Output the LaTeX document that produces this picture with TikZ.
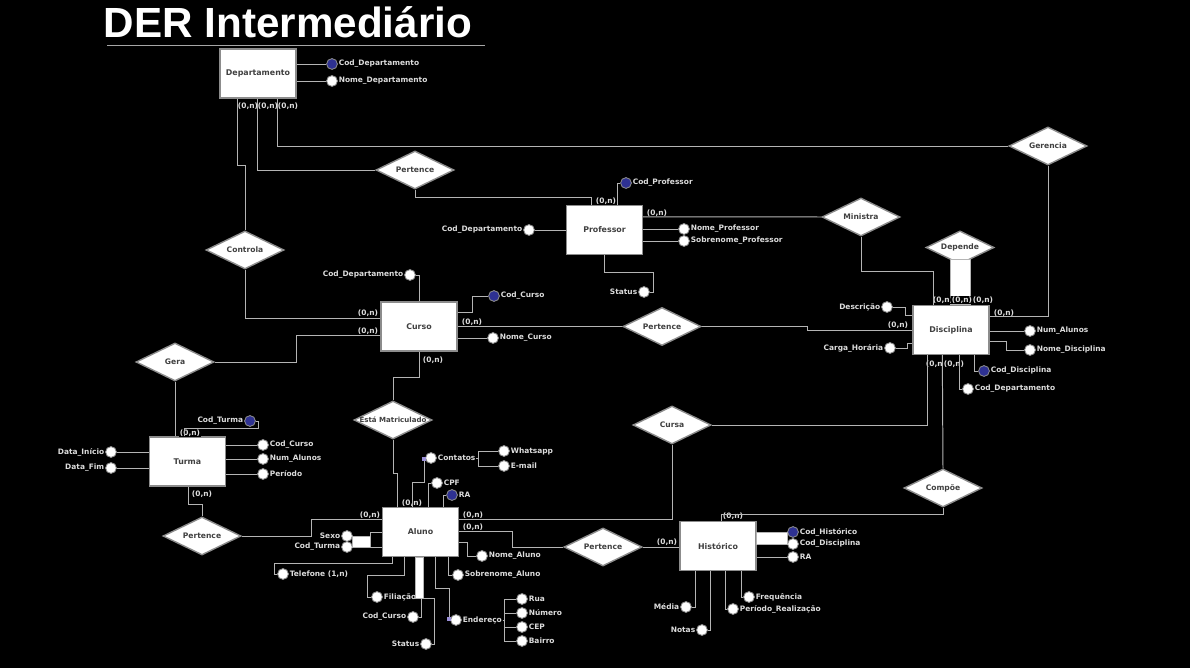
\documentclass[tikz,border=0pt]{standalone}
\usepackage{fontspec}
\setmainfont{DejaVu Sans}
\newfontfamily\titlefont{Liberation Sans}
\usetikzlibrary{shapes.geometric,calc}

\definecolor{linha}{HTML}{B4B4B4}
\definecolor{borda}{HTML}{8C8C8C}
\definecolor{azul}{HTML}{2E3192}
\definecolor{texto}{HTML}{404040}
\definecolor{claro}{HTML}{DCDCDC}
\definecolor{lilas}{HTML}{9A8FD8}

\newcommand{\rtxt}[1]{\makebox[0pt]{#1}}

\begin{document}
\begin{tikzpicture}[x=0.025cm, y=-0.025cm]
        % Estilos
        \tikzstyle{entidade} = [draw=borda, line width=1pt, fill=white, rectangle, minimum width=1.9cm, minimum height=1.225cm, text=texto, font=\fontsize{5.6}{6}\selectfont\bfseries]
        \tikzstyle{relac} = [draw=borda, line width=1pt, fill=white, diamond, minimum width=1.95cm, minimum height=0.95cm, inner sep=0pt, text=texto, font=\fontsize{5.4}{6}\selectfont\bfseries]
        \tikzstyle{atrib} = [draw=borda, line width=0.6pt, fill=white, circle, minimum size=0.27cm, inner sep=0pt, label distance=0.5pt]
        \tikzstyle{chave} = [atrib, fill=azul]
        \tikzstyle{multi} = [rectangle, fill=lilas, minimum size=0.08cm, inner sep=0pt]
        \tikzstyle{rotulo} = [text=claro, font=\fontsize{5.3}{6}\selectfont\bfseries, inner sep=0.5pt]
        \tikzstyle{card} = [rotulo, fill=black, inner sep=0.4pt]
        \tikzstyle{lig} = [draw=linha, line width=0.7pt]

        % Fundo
        \fill[black] (0,0) rectangle (1190,668);
        \useasboundingbox (0,0) rectangle (1190,668);

        % Titulo
        \node[text=white, font=\titlefont\fontsize{30}{32}\selectfont\bfseries] (titulo) at (288,22) {DER Intermediário};
        \draw[gray!70, line width=0.6pt] (107,45) -- (485,45);

        % Entidades
        \node[entidade] (dep) at (258,73.5) {Departamento};
        \node[entidade] (prof) at (604.5,230) {Professor};
        \node[entidade] (curso) at (419,326.5) {Curso};
        \node[entidade] (disc) at (951,330) {Disciplina};
        \node[entidade] (turma) at (187.5,461.5) {Turma};
        \node[entidade] (aluno) at (420.5,532) {Aluno};
        \node[entidade] (hist) at (718,546) {Histórico};

        % Relacionamentos
        \node[relac] (pertDP) at (415,170) {\rtxt{Pertence}};
        \node[relac] (gerencia) at (1048,146) {\rtxt{Gerencia}};
        \node[relac] (ministra) at (861,217) {\rtxt{Ministra}};
        \node[relac, minimum width=1.7cm, minimum height=0.83cm] (depende) at (960,247.5) {\rtxt{Depende}};
        \node[relac] (controla) at (245,250) {\rtxt{Controla}};
        \node[relac] (pertCD) at (662,326.5) {\rtxt{Pertence}};
        \node[relac] (gera) at (175,362) {\rtxt{Gera}};
        \node[relac, font=\fontsize{5}{6}\selectfont\bfseries] (matric) at (393,420) {\rtxt{Está Matriculado}};
        \node[relac] (cursa) at (672,425) {\rtxt{Cursa}};
        \node[relac] (compoe) at (943,488) {\rtxt{Compõe}};
        \node[relac] (pertTA) at (202,536) {\rtxt{Pertence}};
        \node[relac] (pertAH) at (603,547) {\rtxt{Pertence}};

        % Autorrelacionamento (Depende)
        \draw[lig, fill=white] (disc.north west) ++(38,0) rectangle ++(20,-45);

        % Atributos - Departamento
        \node[chave, label={[rotulo]right:Cod\_Departamento}] (kDep) at (332,64) {};
        \node[atrib, label={[rotulo]right:Nome\_Departamento}] (aDepNome) at (332,81) {};

        % Atributos - Professor
        \node[chave, label={[rotulo]right:Cod\_Professor}] (kProf) at (626,183) {};
        \node[atrib, label={[rotulo]left:Cod\_Departamento}] (aProfDep) at (529,230) {};
        \node[atrib, label={[rotulo]right:Nome\_Professor}] (aProfNome) at (684,229) {};
        \node[atrib, label={[rotulo]right:Sobrenome\_Professor}] (aProfSob) at (684,241) {};
        \node[atrib, label={[rotulo]left:Status}] (aProfSta) at (644,292) {};

        % Atributos - Curso
        \node[atrib, label={[rotulo]left:Cod\_Departamento}] (aCurDep) at (410,275) {};
        \node[chave, label={[rotulo]right:Cod\_Curso}] (kCur) at (494,296) {};
        \node[atrib, label={[rotulo]right:Nome\_Curso}] (aCurNome) at (493,338) {};

        % Atributos - Disciplina
        \node[atrib, label={[rotulo]left:Descrição}] (aDisDesc) at (887,307) {};
        \node[atrib, label={[rotulo]left:Carga\_Horária}] (aDisCarga) at (890,348) {};
        \node[atrib, label={[rotulo]right:Num\_Alunos}] (aDisNum) at (1030,331) {};
        \node[atrib, label={[rotulo]right:Nome\_Disciplina}] (aDisNome) at (1030,350) {};
        \node[chave, label={[rotulo]right:Cod\_Disciplina}] (kDis) at (984,371) {};
        \node[atrib, label={[rotulo]right:Cod\_Departamento}] (aDisDep) at (968,389) {};

        % Atributos - Turma
        \node[chave, label={[rotulo]left:Cod\_Turma}] (kTur) at (250,421) {};
        \node[atrib, label={[rotulo]left:Data\_Início}] (aTurIni) at (111,452) {};
        \node[atrib, label={[rotulo]left:Data\_Fim}] (aTurFim) at (111,468) {};
        \node[atrib, label={[rotulo]right:Cod\_Curso}] (aTurCur) at (263,445) {};
        \node[atrib, label={[rotulo]right:Num\_Alunos}] (aTurNum) at (263,459) {};
        \node[atrib, label={[rotulo]right:Período}] (aTurPer) at (263,474) {};

        % Atributos - Aluno
        \node[atrib, label={[rotulo, name=tCont]right:Contatos}] (aAluCont) at (431,458) {};
        \node[multi] (mCont) at (424,459) {};
        \node[atrib, label={[rotulo]right:Whatsapp}] (aAluWhats) at (504,451) {};
        \node[atrib, label={[rotulo]right:E-mail}] (aAluMail) at (504,466) {};
        \node[atrib, label={[rotulo]right:CPF}] (aAluCPF) at (437,483) {};
        \node[chave, label={[rotulo]right:RA}] (kAlu) at (452,495) {};
        \node[atrib, label={[rotulo]left:Sexo}] (aAluSexo) at (347,536) {};
        \node[atrib, label={[rotulo]left:Cod\_Turma}] (aAluTur) at (347,547) {};
        \node[atrib, label={[rotulo]right:Nome\_Aluno}] (aAluNome) at (482,556) {};
        \node[atrib, label={[rotulo]right:Telefone (1,n)}] (aAluTel) at (283,574) {};
        \node[atrib, label={[rotulo]right:Sobrenome\_Aluno}] (aAluSob) at (458,575) {};
        \node[atrib, label={[rotulo]right:Filiação}] (aAluFil) at (377,597) {};
        \node[atrib, label={[rotulo]left:Cod\_Curso}] (aAluCur) at (413,617) {};
        \node[atrib, label={[rotulo, name=tEnd]right:Endereço}] (aAluEnd) at (456,620) {};
        \node[multi] (mEnd) at (449,619) {};
        \node[atrib, label={[rotulo]left:Status}] (aAluSta) at (426,644) {};
        \node[atrib, label={[rotulo]right:Rua}] (aEndRua) at (522,599) {};
        \node[atrib, label={[rotulo]right:Número}] (aEndNum) at (522,613) {};
        \node[atrib, label={[rotulo]right:CEP}] (aEndCEP) at (522,627) {};
        \node[atrib, label={[rotulo]right:Bairro}] (aEndBairro) at (522,641) {};

        % Atributos - Historico
        \node[chave, label={[rotulo]right:Cod\_Histórico}] (kHis) at (793,532) {};
        \node[atrib, label={[rotulo]right:Cod\_Disciplina}] (aHisDis) at (793,544) {};
        \node[atrib, label={[rotulo]right:RA}] (aHisRA) at (793,557) {};
        \node[atrib, label={[rotulo]right:Frequência}] (aHisFreq) at (749,597) {};
        \node[atrib, label={[rotulo]right:Período\_Realização}] (aHisPer) at (733,609) {};
        \node[atrib, label={[rotulo]left:Média}] (aHisMed) at (686,607) {};
        \node[atrib, label={[rotulo]left:Notas}] (aHisNotas) at (702,630) {};

        % Cardinalidades
        \node[card] (cDep1) at (248,106) {(0,n)};
        \node[card] (cDep2) at (268,106) {(0,n)};
        \node[card] (cDep3) at (288,106) {(0,n)};
        \node[card] (cProf1) at (606,201) {(0,n)};
        \node[card] (cProf2) at (657,213) {(0,n)};
        \node[card] (cDis1) at (943,300) {(0,n)};
        \node[card] (cDis2) at (962,300) {(0,n)};
        \node[card] (cDis3) at (983,300) {(0,n)};
        \node[card] (cDis4) at (1004,313) {(0,n)};
        \node[card] (cDis5) at (898,325) {(0,n)};
        \node[card] (cDis6) at (936,364) {(0,n)};
        \node[card] (cDis7) at (954,364) {(0,n)};
        \node[card] (cCur1) at (368,313) {(0,n)};
        \node[card] (cCur2) at (368,331) {(0,n)};
        \node[card] (cCur3) at (472,322) {(0,n)};
        \node[card] (cCur4) at (433,360) {(0,n)};
        \node[card] (cTur1) at (190,433) {(0,n)};
        \node[card] (cTur2) at (202,494) {(0,n)};
        \node[card] (cAlu1) at (412,503) {(0,n)};
        \node[card] (cAlu2) at (370,515) {(0,n)};
        \node[card] (cAlu3) at (473,515) {(0,n)};
        \node[card] (cAlu4) at (473,527) {(0,n)};
        \node[card] (cHis1) at (667,542) {(0,n)};
        \node[card] (cHis2) at (733,516) {(0,n)};

        % Ligacoes entre entidades e relacionamentos
        \draw[lig] (dep.south west) ++(18,0) -- ++(0,67) -| (controla.north);
        \draw[lig] (dep.south west) ++(38,0) |- (pertDP.west);
        \draw[lig] (dep.south west) ++(58,0) |- (gerencia.west);
        \draw[lig] (disc.north east) ++(0,12) -| (gerencia.south);
        \draw[lig] (prof.north west) ++(26,0) -- ++(0,-7) -| (pertDP.south);
        \draw[lig] (prof.north east) ++(0,12) -- (ministra.west);
        \draw[lig] (disc.north west) ++(21,0) -- ++(0,-33) -| (ministra.south);
        \draw[lig] (curso.east) -- (pertCD.west);
        \draw[lig] (pertCD.east) -- ++(106,0) |- (disc.west);
        \draw[lig] (curso.north west) ++(0,17) -| (controla.south);
        \draw[lig] (curso.north west) ++(0,34) -- ++(-84,0) |- (gera.east);
        \draw[lig] (gera.south) -- (gera.south |- turma.north);
        \draw[lig] (curso.south) -- ++(0,26) -| (matric.north);
        \draw[lig] (aluno.north west) ++(16,0) -- ++(0,-33) -| (matric.south);
        \draw[lig] (turma.south west) ++(40,0) -- ++(0,18) -| (pertTA.north);
        \draw[lig] (pertTA.east) -- ++(70,0) |- ($(aluno.north west)+(0,13)$);
        \draw[lig] ($(aluno.north east)+(0,12.5)$) -| (cursa.south);
        \draw[lig] ($(aluno.north east)+(0,24.5)$) -- ++(53,0) |- (pertAH.west);
        \draw[lig] (pertAH.east) -- (pertAH.east -| hist.west);
        \draw[lig] (disc.south west) ++(15,0) |- (cursa.east);
        \draw[lig] (disc.south west) ++(30,0) -- (compoe.north);
        \draw[lig] (hist.north west) ++(42,0) -- ++(0,-6) -| (compoe.south);

        % Ligacoes dos atributos
        \draw[lig] (kDep) -- (kDep -| dep.east);
        \draw[lig] (aDepNome) -- (aDepNome -| dep.east);

        \draw[lig] (prof.north west) ++(51.5,0) |- (kProf.west);
        \draw[lig] (aProfDep) -- (aProfDep -| prof.west);
        \draw[lig] (aProfNome) -- (aProfNome -| prof.east);
        \draw[lig] (aProfSob) -- (aProfSob -| prof.east);
        \draw[lig] (prof.south west) ++(38.5,0) -- ++(0,17.5) -- ++(49,0) |- (aProfSta.east);

        \draw[lig] (aCurDep.east) -| (curso.north);
        \draw[lig] ($(curso.north east)+(0,11)$) -- ++(15,0) |- (kCur.west);
        \draw[lig] (aCurNome) -- (aCurNome -| curso.east);

        \draw[lig] (aDisDesc.east) -- ++(13,0) |- ($(disc.north west)+(0,11)$);
        \draw[lig] (aDisCarga.east) -- ++(12,0) |- ($(disc.south west)+(0,-12)$);
        \draw[lig] (aDisNum) -- (aDisNum -| disc.east);
        \draw[lig] ($(disc.north east)+(0,37)$) -- ++(17,0) |- (aDisNome.west);
        \draw[lig] (disc.south west) ++(62,0) |- (kDis.west);
        \draw[lig] (disc.south west) ++(47,0) |- (aDisDep.west);

        \draw[lig] (turma.north west) ++(36,0) -- ++(0,-8) -- ++(74,0) |- (kTur.east);
        \draw[lig] (aTurIni) -- (aTurIni -| turma.west);
        \draw[lig] (aTurFim) -- (aTurFim -| turma.west);
        \draw[lig] (aTurCur) -- (aTurCur -| turma.east);
        \draw[lig] (aTurNum) -- (aTurNum -| turma.east);
        \draw[lig] (aTurPer) -- (aTurPer -| turma.east);

        \draw[lig] (aluno.north west) ++(31,0) -- ++(0,-24.5) -| (mCont.south);
        \draw[lig] (tCont.east) -- ++(2,0) |- (aAluWhats.west);
        \draw[lig] (tCont.east) -- ++(2,0) |- (aAluMail.west);
        \draw[lig] (aluno.north west) ++(47,0) |- (aAluCPF.west);
        \draw[lig] (aluno.north west) ++(62,0) |- (kAlu.west);
        \draw[lig, fill=white] (aAluSexo.east) rectangle ($(aAluTur.east)+(18,0)$);
        \draw[lig] ($(aAluSexo.east)+(18,0)$) |- (aluno.west);
        \draw[lig] (aAluTur.east) -- (aAluTur.east -| aluno.west);
        \draw[lig] ($(aluno.north east)+(0,36)$) -- ++(8,0) |- (aAluNome.west);
        \draw[lig] (aluno.south west) ++(11,0) -- ++(0,6.5) -- ++(-118.5,0) |- (aAluTel.west);
        \draw[lig] (aluno.south west) ++(22.5,0) -- ++(0,18.5) -- ++(-37,0) |- (aAluFil.west);
        \draw[lig, fill=white] (aluno.south west) ++(34,0) rectangle ++(8,41.5);
        \draw[lig] (aluno.south west) ++(40,41.5) |- (aAluCur.east);
        \draw[lig] (aluno.south west) ++(42,41.5) -- ++(11,0) |- (aAluSta.east);
        \draw[lig] (aluno.south west) ++(53.5,0) -- ++(0,31.5) -| (mEnd.north);
        \draw[lig] (aluno.south west) ++(66.5,0) |- (aAluSob.west);
        \draw[lig] (tEnd.east) -- ++(2,0) |- (aEndRua.west);
        \draw[lig] (tEnd.east) -- ++(2,0) |- (aEndNum.west);
        \draw[lig] (tEnd.east) -- ++(2,0) |- (aEndCEP.west);
        \draw[lig] (tEnd.east) -- ++(2,0) |- (aEndBairro.west);

        \draw[lig, fill=white] (hist.east |- kHis) rectangle (aHisDis.west);
        \draw[lig] (aHisRA) -- (aHisRA -| hist.east);
        \draw[lig] (hist.south west) ++(62,0) |- (aHisFreq.west);
        \draw[lig] (hist.south west) ++(46.5,0) |- (aHisPer.west);
        \draw[lig] (hist.south west) ++(16.5,0) |- (aHisMed.east);
        \draw[lig] (hist.south west) ++(31.5,0) |- (aHisNotas.east);

\end{tikzpicture}
\end{document}
